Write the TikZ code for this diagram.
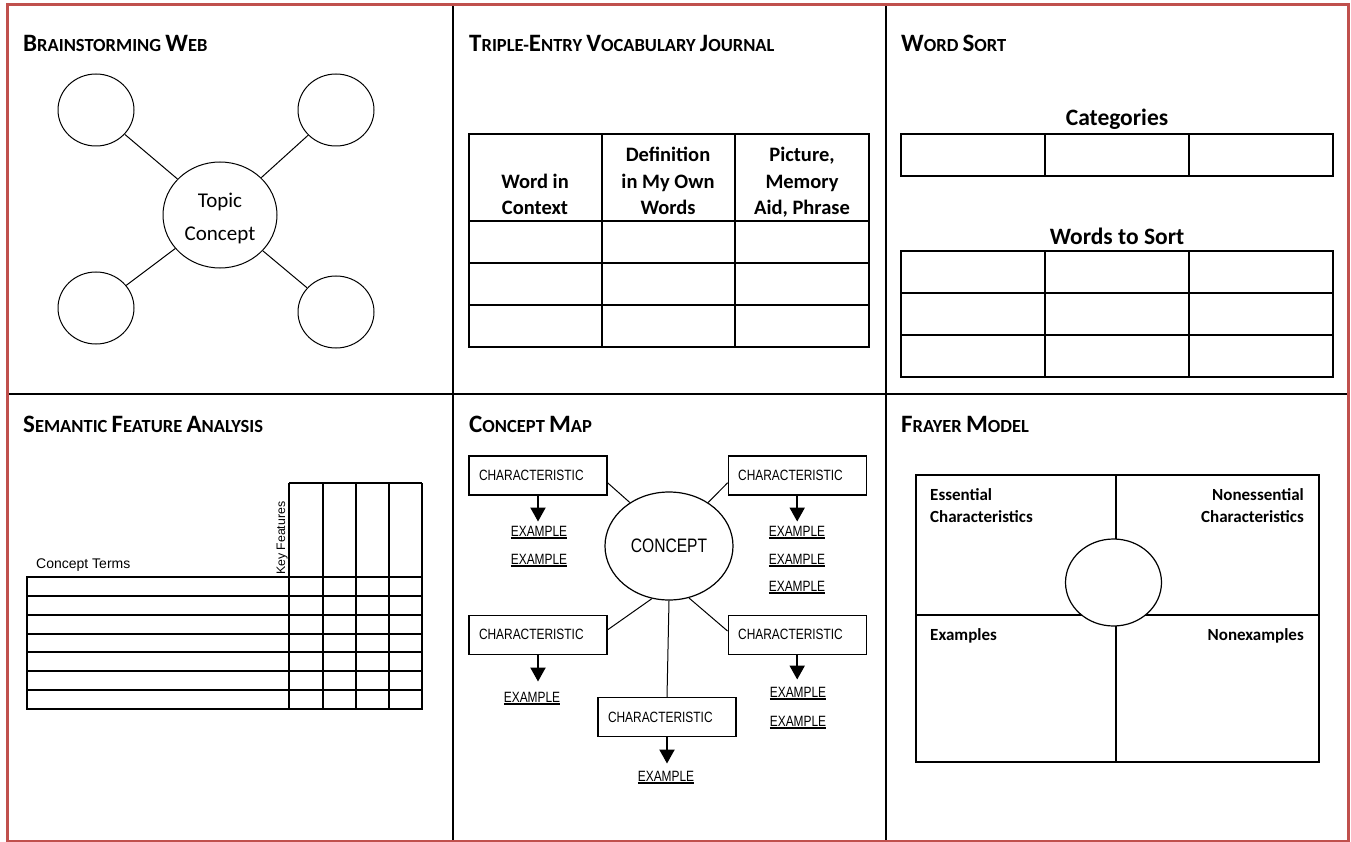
\documentclass[tikz,border=0pt]{standalone}
\usepackage{fontspec}
\setmainfont{Carlito}
\newfontfamily\arialfont{Liberation Sans}
\newfontfamily\narrowfont[FakeStretch=0.8]{Liberation Sans}
\usetikzlibrary{positioning}
\usetikzlibrary{arrows.meta}
\usetikzlibrary{shapes.geometric}
\definecolor{framered}{RGB}{192,80,77}
\newcommand{\initial}[1]{{\fontsize{25}{27}\selectfont #1}}
\newcommand{\underex}[1]{\setbox0\hbox{#1}\rlap{\rule[-2.5pt]{\wd0}{1.2pt}}\box0}

\begin{document}
\begin{tikzpicture}[x=1pt,y=-1pt,>={Triangle[width=15pt,length=14pt]},
	title/.style={anchor=base west,inner sep=0pt,font=\bfseries\fontsize{18.5}{20}\selectfont},
	bubble/.style={ellipse,draw,line width=1pt,minimum width=76pt,minimum height=72pt,inner sep=0pt},
	ruled/.style={line width=1.6pt},
	charbox/.style={draw,line width=1.2pt,minimum height=39pt,text width=118pt,inner xsep=10pt,
		inner ysep=0pt,align=left,font=\narrowfont\fontsize{14.9}{17}\selectfont},
	example/.style={anchor=base,inner sep=0pt,font=\narrowfont\fontsize{14.9}{17}\selectfont},
	arr/.style={->,line width=2pt,shorten >=#1},arr/.default=4pt,
	head/.style={align=center,inner sep=0pt,anchor=base,font=\bfseries\fontsize{20.5}{26.5}\selectfont},
	corner/.style={inner sep=0pt,font=\bfseries\fontsize{17}{22}\selectfont}]
	
	\useasboundingbox (0,0) rectangle (1351,842);
	
	% frame
	\draw[line width=2pt] (453,5) -- (453,842);
	\draw[line width=2pt] (886,5) -- (886,842);
	\draw[line width=2pt] (7,394) -- (1348,394);
	\draw[framered,line width=3pt] (7,5) rectangle (1348,841);
	
	% titles
	\node[title] (t1) at (23,52) {\initial{B}RAINSTORMING \initial{W}EB};
	\node[title] (t2) at (469,52) {\initial{T}RIPLE-\initial{E}NTRY \initial{V}OCABULARY \initial{J}OURNAL};
	\node[title] (t3) at (901,52) {\initial{W}ORD \initial{S}ORT};
	\node[title] (t4) at (23,432) {\initial{S}EMANTIC \initial{F}EATURE \initial{A}NALYSIS};
	\node[title] (t5) at (469,432) {\initial{C}ONCEPT \initial{M}AP};
	\node[title] (t6) at (901,432) {\initial{F}RAYER \initial{M}ODEL};
	
	% brainstorming web
	\node[bubble,minimum width=114pt,minimum height=106pt,align=center,text height=54pt,
		font=\fontsize{21}{33}\selectfont] (topic) at (220,215) {Topic\\Concept};
	\node[bubble] (w1) at (96,110) {};
	\node[bubble] (w2) at (336,110) {};
	\node[bubble] (w3) at (96,308) {};
	\node[bubble] (w4) at (336,312) {};
	\foreach \n in {w1,w2,w3,w4}
		\draw[line width=1pt] (\n) -- (topic);
	
	% triple-entry journal
	\draw[ruled] (469,134) rectangle (869,347);
	\foreach \x in {602,735}
		\draw[ruled] (\x,134) -- (\x,347);
	\foreach \y in {221,263,305}
		\draw[ruled] (469,\y) -- (869,\y);
	\node[head] (h1) at (535,215) {Word in\\Context};
	\node[head] (h2) at (668,215) {Definition\\in My Own\\Words};
	\node[head] (h3) at (802,215) {Picture,\\Memory\\Aid, Phrase};
	
	% word sort
	\node[anchor=base,inner sep=0pt,font=\bfseries\fontsize{23.5}{26}\selectfont] (cat) at (1117,126) {Categories};
	\node[anchor=base,inner sep=0pt,font=\bfseries\fontsize{23.5}{26}\selectfont] (sort) at (1117,244) {Words to Sort};
	\draw[ruled] (901,134) rectangle (1333,176);
	\draw[ruled] (901,251) rectangle (1333,377);
	\foreach \x in {1045,1189} {
		\draw[ruled] (\x,134) -- (\x,176);
		\draw[ruled] (\x,251) -- (\x,377);
	}
	\foreach \y in {293,335}
		\draw[ruled] (901,\y) -- (1333,\y);
	
	% semantic feature analysis
	\node[anchor=base west,inner sep=0pt,font=\arialfont\fontsize{14}{16}\selectfont] (terms) at (36,568) {Concept Terms};
	\node[rotate=90,anchor=base west,inner sep=0pt,font=\arialfont\fontsize{12.3}{14}\selectfont] (keys) at (285,575) {Key Features};
	\draw[line width=1.4pt] (27,577) rectangle (422,709);
	\draw[line width=1.4pt] (289,483) -- (422,483);
	\foreach \x in {289,323,356,389,422}
		\draw[line width=1.4pt] (\x,483) -- (\x,709);
	\foreach \y in {596,615,634,652,671,690}
		\draw[line width=1.4pt] (27,\y) -- (422,\y);
	
	% concept map
	\node[ellipse,draw,line width=1.2pt,minimum width=128pt,minimum height=108pt,inner sep=0pt,
		font=\narrowfont\fontsize{19.5}{22}\selectfont] (concept) at (669,546) {CONCEPT};
	\node[charbox] (c1) at (538,475.5) {CHARACTERISTIC};
	\node[charbox,right=120pt of c1] (c2) {CHARACTERISTIC};
	\node[charbox,below=119pt of c1] (c3) {CHARACTERISTIC};
	\node[charbox,below=119pt of c2] (c4) {CHARACTERISTIC};
	\node[charbox] (c5) at (667,717) {CHARACTERISTIC};
	
	\node[example] (e1) at (539,536) {\underex{EXAMPLE}};
	\node[example] (e2) at (539,564) {\underex{EXAMPLE}};
	\node[example] (e3) at (797,536) {\underex{EXAMPLE}};
	\node[example] (e4) at (797,564) {\underex{EXAMPLE}};
	\node[example] (e5) at (797,591) {\underex{EXAMPLE}};
	\node[example] (e6) at (532,702) {\underex{EXAMPLE}};
	\node[example] (e7) at (798,697) {\underex{EXAMPLE}};
	\node[example] (e8) at (798,726) {\underex{EXAMPLE}};
	\node[example] (e9) at (666,781) {\underex{EXAMPLE}};
	
	\draw[line width=1pt] (c1.-6) -- (concept.132);
	\draw[line width=1pt] (c2.186) -- (concept.48);
	\draw[line width=1pt] (c3.4) -- (concept.252);
	\draw[line width=1pt] (c4.177) -- (concept.291);
	\draw[line width=1pt] (concept.south) -- (c5.north);
	
	\draw[arr] (c1.south) -- (c1.south |- e1.north);
	\draw[arr] (c2.south) -- (c2.south |- e3.north);
	\draw[arr=10pt] (c3.south) -- (c3.south |- e6.north);
	\draw[arr=7pt] (c4.south) -- (c4.south |- e7.north);
	\draw[arr=7pt] (c5.south) -- (c5.south |- e9.north);
	
	% frayer model
	\draw[ruled] (916,475) rectangle (1319,762);
	\draw[ruled] (1116,475) -- (1116,762);
	\draw[ruled] (916,615) -- (1319,615);
	\node[ellipse,draw,fill=white,line width=1.2pt,minimum width=96pt,minimum height=87pt] (hub) at (1113.5,582.5) {};
	\node[corner,anchor=base west,align=left] (q1) at (930,522) {Essential\\Characteristics};
	\node[corner,anchor=base east,align=right] (q2) at (1304,522) {Nonessential\\Characteristics};
	\node[corner,anchor=base west] (q3) at (930,640) {Examples};
	\node[corner,anchor=base east] (q4) at (1304,640) {Nonexamples};
\end{tikzpicture}
\end{document}
